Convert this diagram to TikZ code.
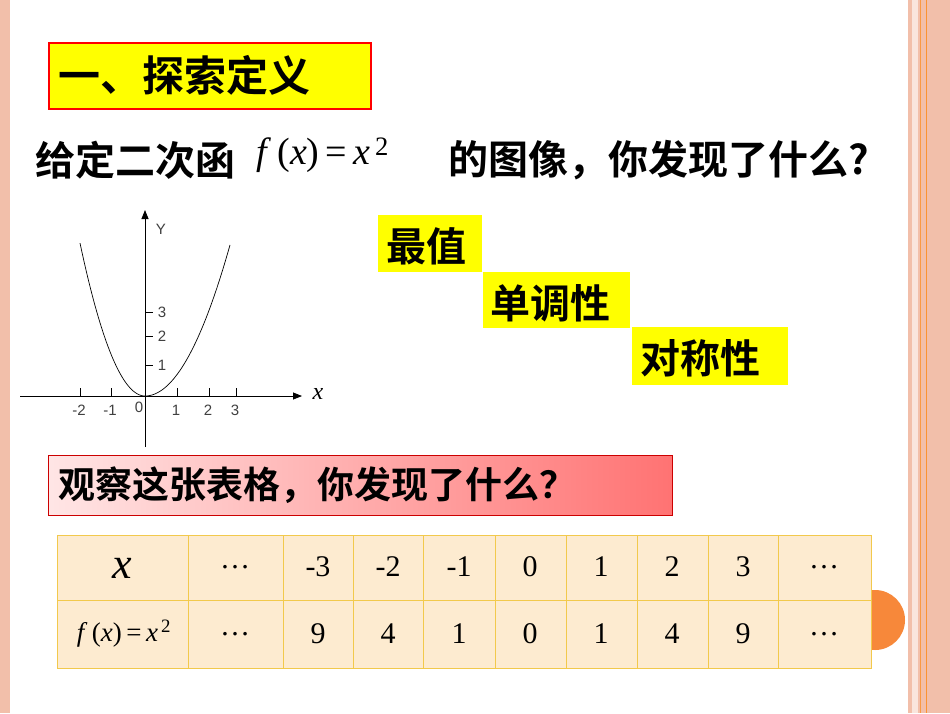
\documentclass[tikz,border=0pt]{standalone}
\usepackage{fontspec}
\setmainfont{Liberation Serif}
\newfontfamily\cjk{Noto Sans CJK SC}[BoldFont={Noto Sans CJK SC Bold}]
\newfontfamily\arial{Liberation Sans}
\usetikzlibrary{arrows.meta}
\definecolor{salmon}{HTML}{F2BFAA}
\definecolor{cream}{HTML}{FDEBD0}
\definecolor{gold}{HTML}{F2C94C}
\definecolor{ylw}{HTML}{FFFF00}
\definecolor{orng}{HTML}{F7883A}
\newcommand{\fxx}{\textit{f}\,(\textit{x})\,=\,\textit{x}\textsuperscript{\,2}}
\tikzset{
  ybox/.style={fill=ylw,inner sep=0pt,anchor=north west},
  cell/.style={font=\fontsize{30}{30}\selectfont},
  tk/.style={font=\arial\fontsize{15}{15}\selectfont,text=black!75},
  cj/.style={font=\cjk\bfseries\fontsize{#1}{#1}\selectfont,anchor=west,inner sep=0pt},
}
\begin{document}
\begin{tikzpicture}[x=1pt,y=-1pt]
\useasboundingbox (0,0) rectangle (950,713);
\fill[white] (0,0) rectangle (950,713);
% side strips
\fill[salmon] (0,0) rectangle (10,713);
\fill[salmon] (908,0) rectangle (950,713);
\fill[white!60!salmon] (912,0) rectangle (918,713);
\draw[orange!70!salmon,line width=0.8pt] (926,0) -- (926,713);
\draw[orange!60!salmon,line width=0.8pt] (920,0) -- (920,713);
% orange circle
\fill[orng] (875,620) circle (30);
% title
\node[draw=red,line width=1.5pt,fill=ylw,minimum width=322,minimum height=66,anchor=north west,inner sep=0pt] (title) at (48,42) {};
\node[cj=42] (titletxt) at (58,75) {一、探索定义};
% question
\node[cj=40] (q1) at (35,160) {给定二次函};
\node[font=\fontsize{38}{38}\selectfont,anchor=west,inner sep=0pt] (fx) at (256,155) {\fxx};
\node[cj=40] (q2) at (448,160) {的图像，你发现了什么?};
% yellow labels
\node[ybox,minimum width=104,minimum height=57] (b1) at (378,215) {};
\node[cj=40] at (386,246) {最值};
\node[ybox,minimum width=147,minimum height=56] (b2) at (483,272) {};
\node[cj=40] at (490,303) {单调性};
\node[ybox,minimum width=156,minimum height=58] (b3) at (632,327) {};
\node[cj=40] at (640,358) {对称性};
% graph
\draw[line width=0.8pt,-{Triangle[length=9pt,width=7pt]}] (20,396) -- (302,396) coordinate (xe);
\draw[line width=0.8pt,-{Triangle[length=9pt,width=7pt]}] (145,447) -- (145,210) coordinate (ye);
\node[font=\itshape\fontsize{24}{24}\selectfont] (xl) at (318,394) {x};
\node[tk] (yl) at (161,229) {Y};
\foreach \x/\l in {80/-2,111/-1,177/1,209/2,236/3}{
  \draw[line width=0.6pt] (\x,396) -- (\x,388);
  \node[tk] at (\x-1,410) {\l};}
\node[tk] at (139,407) {0};
\foreach \y/\l in {365/1,336/2,312/3}{
  \draw[line width=0.6pt] (145,\y) -- (153,\y);
  \node[tk] at (162,\y) {\l};}
\draw[line width=0.7pt] plot[domain=80:145,samples=40] (\x,{396-0.0362*(\x-145)^2});
\draw[line width=0.7pt] plot[domain=145:230,samples=40] (\x,{396-0.0209*(\x-145)^2});
% pink box
\shade[left color=red!10!white,right color=red!55!white] (48,455) rectangle (672,515);
\draw[red!80!black,line width=1pt] (48,455) rectangle (672,515);
\node[cj=37] (q3) at (58,485) {观察这张表格，你发现了什么？};
% table
\fill[cream] (57,535) rectangle (871,668);
\draw[gold,line width=1pt] (57,535) rectangle (871,668);
\draw[gold,line width=1pt] (57,600) -- (871,600);
\foreach \c in {188,283,353,423,495,566,637,708,778}
  \draw[gold,line width=1pt] (\c,535) -- (\c,668);
\node[font=\itshape\fontsize{44}{44}\selectfont] at (122,568) {x};
\node[font=\fontsize{27}{27}\selectfont] at (124,634) {\fxx};
\foreach \xc/\a/\b in {235/\dots/\dots,318/-3/9,388/-2/4,459/-1/1,530/0/0,601/1/1,672/2/4,743/3/9,824/\dots/\dots}{
  \node[cell] at (\xc,567) {\a};
  \node[cell] at (\xc,634) {\b};}
\end{tikzpicture}
\end{document}
